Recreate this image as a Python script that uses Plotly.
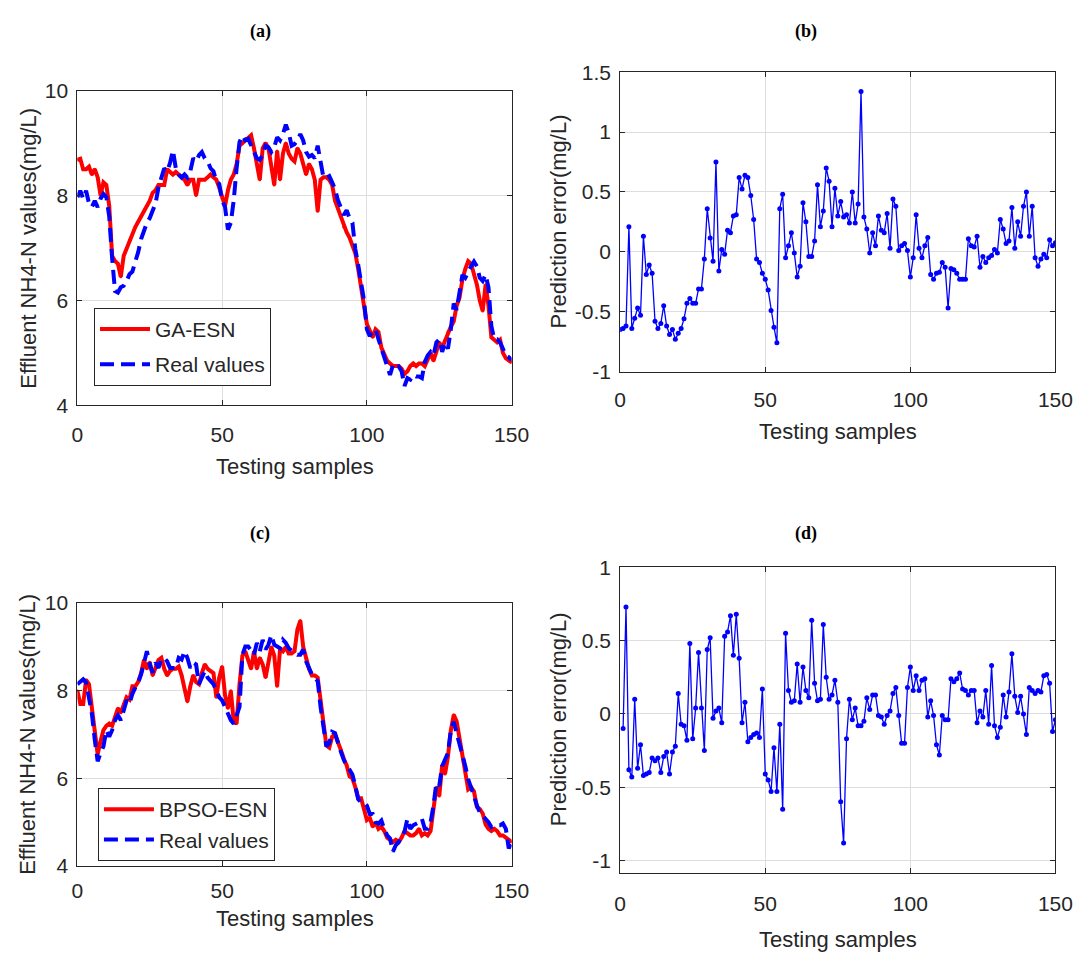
import plotly.graph_objects as go

# ---------------- data ----------------
samples_a = list(range(0, 151))
real_a = [7.97, 8.09, 7.94, 8.09, 7.85, 7.78, 7.9, 7.78, 7.94, 8.03,
          7.97, 7.6, 6.8, 6.18, 6.15, 6.25, 6.28, 6.37, 6.5, 6.55,
          6.74, 6.92, 7.17, 7.35, 7.48, 7.57, 7.72, 7.85, 8.15, 8.34,
          8.52, 8.46, 8.62, 8.86, 8.52, 8.4, 8.34, 8.4, 8.34, 8.46,
          8.71, 8.65, 8.77, 8.83, 8.71, 8.65, 8.52, 8.46, 8.28, 8.22,
          7.91, 7.78, 7.35, 7.48, 7.91, 8.52, 9.02, 9.14, 9.05, 9.08,
          8.95, 8.83, 8.71, 8.68, 8.77, 8.95, 8.92, 8.83, 8.92, 9.11,
          9.05, 9.17, 9.35, 9.2, 8.95, 8.98, 9.05, 9.17, 9.05, 8.83,
          8.74, 8.77, 8.71, 8.95, 8.62, 8.34, 8.34, 8.37, 8.25, 8.12,
          7.91, 7.78, 7.63, 7.72, 7.57, 7.48, 6.98, 6.68, 6.37, 6.0,
          5.45, 5.32, 5.42, 5.45, 5.26, 5.08, 4.95, 4.71, 4.58, 4.77,
          4.71, 4.74, 4.65, 4.37, 4.52, 4.49, 4.58, 4.55, 4.55, 4.52,
          4.83, 4.95, 5.02, 4.95, 5.2, 5.26, 5.02, 5.2, 5.08, 5.45,
          5.94, 5.82, 6.12, 6.49, 6.43, 6.55, 6.65, 6.74, 6.65, 6.43,
          6.37, 6.49, 6.25, 5.51, 5.26, 5.26, 5.2, 5.08, 4.95, 4.92,
          4.86]
ga_esn = [8.68, 8.7, 8.5, 8.5, 8.55, 8.4, 8.5, 8.35, 8.0, 8.25,
          8.2, 7.8, 6.85, 6.75, 6.7, 6.45, 6.85, 7.0, 7.15, 7.25,
          7.4, 7.5, 7.6, 7.7, 7.8, 7.9, 8.05, 8.1, 8.2, 8.2,
          8.2, 8.5, 8.45, 8.4, 8.45, 8.4, 8.35, 8.3, 8.2, 8.3,
          8.3, 8.0, 8.3, 8.3, 8.3, 8.35, 8.4, 8.35, 8.3, 8.15,
          7.95, 7.8, 8.1, 8.3, 8.4, 8.6, 8.95, 9.0, 9.05, 9.1,
          9.15, 8.9, 8.6, 8.3, 8.9, 9.0, 8.9, 8.5, 8.2, 8.85,
          8.3, 8.8, 9.0, 8.8, 8.7, 8.65, 8.9, 8.8, 8.6, 8.4,
          8.6, 8.5, 8.3, 7.7, 8.3, 8.35, 8.35, 8.3, 8.2, 7.9,
          7.75, 7.6, 7.4, 7.3, 7.2, 7.05, 6.9, 6.6, 6.3, 5.9,
          5.55, 5.4, 5.3, 5.45, 5.4, 5.1, 4.95, 4.85, 4.8, 4.75,
          4.75, 4.75, 4.7, 4.6, 4.65, 4.75, 4.8, 4.75, 4.8, 4.8,
          4.75, 4.9, 5.0, 4.85, 5.05, 5.2, 5.1, 5.25, 5.4, 5.5,
          5.6, 5.9, 6.05, 6.4, 6.6, 6.75, 6.7, 6.5, 6.3, 6.0,
          5.8, 6.3, 5.9, 5.3, 5.25, 5.2, 5.25, 5.0, 4.9, 4.85,
          4.82]
err_ga = [-0.65, -0.64, -0.62, 0.21, -0.64, -0.555, -0.47, -0.53, 0.13, -0.19,
          -0.11, -0.18, -0.58, -0.64, -0.60, -0.45, -0.62, -0.69, -0.65, -0.73,
          -0.68, -0.64, -0.56, -0.43, -0.39, -0.43, -0.43, -0.31, -0.31, -0.06,
          0.36, 0.115, -0.08, 0.75, -0.16, 0.02, -0.02, 0.18, 0.16, 0.30,
          0.31, 0.62, 0.525, 0.64, 0.62, 0.47, 0.27, -0.06, -0.09, -0.18,
          -0.23, -0.32, -0.49, -0.63, -0.76, 0.36, 0.48, -0.05, 0.05, 0.16,
          -0.01, -0.21, -0.12, 0.41, 0.25, -0.04, -0.04, 0.09, 0.56, 0.21,
          0.34, 0.70, 0.59, 0.21, 0.53, 0.30, 0.42, 0.29, 0.31, 0.24,
          0.50, 0.24, 0.40, 1.34, 0.29, 0.19, -0.01, 0.16, 0.05, 0.30,
          0.18, 0.16, 0.32, 0.03, 0.44, 0.38, 0.01, 0.05, 0.07, 0.01,
          -0.21, -0.05, 0.31, 0.03, -0.05, 0.05, 0.12, -0.19, -0.23, -0.18,
          -0.17, -0.09, -0.13, -0.47, -0.14, -0.15, -0.18, -0.23, -0.23, -0.23,
          0.11, 0.05, 0.04, 0.13, -0.13, -0.04, -0.09, -0.05, -0.03, 0.02,
          -0.01, 0.27, 0.19, 0.07, 0.09, 0.37, 0.03, 0.25, 0.13, 0.38,
          0.50, 0.13, 0.38, -0.05, -0.12, -0.06, -0.02, -0.05, 0.10, 0.05,
          0.075]

samples_c = list(range(0, 151))
real_c = [8.15, 8.22, 8.26, 8.19, 7.78, 7.48, 6.88, 6.39, 6.58, 6.73,
          7.1, 6.95, 7.1, 7.33, 7.44, 7.33, 7.55, 7.78, 7.7, 7.93,
          8.07, 8.19, 8.37, 8.6, 8.9, 8.6, 8.41, 8.64, 8.52, 8.71,
          8.75, 8.67, 8.52, 8.52, 8.52, 8.75, 8.71, 8.9, 8.75, 8.52,
          8.64, 8.6, 8.15, 8.3, 8.45, 8.3, 8.22, 8.15, 8.0, 7.85,
          7.78, 7.63, 7.48, 7.33, 7.25, 7.48, 7.63, 8.82, 9.01, 9.01,
          8.9, 8.82, 9.09, 8.9, 9.16, 8.94, 9.05, 9.27, 9.05, 9.01,
          8.97, 9.16, 9.09, 8.97, 8.9, 8.86, 8.82, 8.82, 8.94, 8.67,
          8.52, 8.37, 8.3, 8.22, 7.63, 7.1, 6.73, 6.8, 7.06, 7.03,
          6.8, 6.61, 6.43, 6.28, 6.2, 6.09, 5.83, 5.53, 5.45, 5.45,
          5.38, 5.19, 5.19, 5.0, 4.97, 5.04, 4.85, 4.7, 4.63, 4.33,
          4.48, 4.55, 4.67, 4.78, 5.08, 4.85, 4.93, 4.97, 5.0, 5.08,
          4.85, 4.85, 5.0, 5.38, 5.9, 5.83, 6.28, 6.43, 6.58, 7.1,
          7.29, 7.03, 6.8, 6.5, 6.28, 5.98, 5.75, 5.6, 5.38, 5.23,
          5.15, 5.08, 5.0, 4.89, 4.93, 4.93, 4.93, 4.97, 4.85, 4.4,
          4.55]
bpso_esn = [8.0, 7.7, 7.7, 8.25, 8.15, 7.55, 7.0, 6.55, 6.85, 7.1,
            7.2, 7.25, 7.2, 7.4, 7.6, 7.5, 7.7, 7.85, 7.8, 8.1,
            8.1, 8.2, 8.4, 8.7, 8.5, 8.65, 8.35, 8.5, 8.7, 8.75,
            8.5, 8.35, 8.45, 8.5, 8.5, 8.55, 8.35, 8.05, 7.75, 8.1,
            8.35, 8.2, 8.15, 8.4, 8.6, 8.5, 8.45, 8.4, 7.85, 8.3,
            8.55, 7.9, 7.6, 8.0, 7.3, 7.25, 8.15, 8.8, 8.9, 8.7,
            8.5, 8.9, 8.5, 8.75, 8.6, 8.3, 8.7, 9.0, 8.8, 8.1,
            8.95, 8.9, 9.0, 8.85, 8.85, 8.9, 9.4, 9.6, 9.0, 8.7,
            8.5, 8.35, 8.35, 8.3, 7.8, 7.2, 6.75, 6.7, 6.95, 7.0,
            6.85, 6.65, 6.45, 6.3, 6.05, 6.0, 5.8, 5.55, 5.55, 5.3,
            5.05, 5.1, 4.9, 5.0, 4.85, 4.9, 4.8, 4.65, 4.6, 4.55,
            4.6, 4.55, 4.65, 4.8, 4.75, 4.7, 4.7, 4.75, 4.85, 4.7,
            4.75, 4.7, 4.8, 5.3, 5.8, 5.6, 6.3, 6.1, 6.5, 7.1,
            7.45, 7.3, 6.9, 6.5, 6.2, 5.75, 5.8, 5.7, 5.35, 5.3,
            5.2, 4.95, 4.85, 4.8, 4.85, 4.8, 4.7, 4.7, 4.65, 4.6,
            4.55]
samples_d = list(range(1, 151))
err_bpso = [-0.10, 0.73, -0.38, -0.43, 0.10, -0.37, -0.21, -0.42, -0.41, -0.40,
            -0.30, -0.32, -0.30, -0.40, -0.29, -0.26, -0.41, -0.26, -0.22, 0.14,
            -0.07, -0.08, -0.18, 0.48, -0.17, 0.04, 0.42, 0.04, -0.25, 0.44,
            0.52, -0.03, 0.02, 0.04, -0.06, 0.53, 0.56, 0.67, 0.40, 0.68,
            0.38, -0.06, 0.08, -0.19, -0.16, -0.14, -0.13, -0.16, 0.17, -0.41,
            -0.45, -0.53, -0.23, -0.53, -0.07, -0.65, 0.55, 0.16, 0.08, 0.09,
            0.34, 0.08, 0.32, 0.16, 0.11, 0.64, 0.21, 0.09, 0.10, 0.61,
            0.25, 0.10, 0.13, 0.23, 0.08, -0.60, -0.88, -0.17, 0.10, -0.04,
            0.04, -0.08, -0.08, -0.05, 0.11, 0.03, 0.13, 0.13, -0.01, -0.02,
            -0.07, -0.01, 0.02, 0.14, 0.18, -0.01, -0.20, -0.20, 0.18, 0.32,
            0.16, 0.26, 0.16, 0.23, 0.24, -0.02, 0.09, -0.01, -0.21, -0.28,
            -0.01, -0.04, -0.04, 0.24, 0.22, 0.24, 0.28, 0.17, 0.16, 0.13,
            0.16, 0.16, -0.06, 0.02, -0.02, 0.16, -0.07, 0.33, -0.08, -0.16,
            -0.09, 0.13, -0.02, 0.15, 0.41, 0.12, 0.01, 0.12, 0.00, -0.14,
            0.18, 0.16, 0.14, 0.16, 0.15, 0.26, 0.27, 0.21, -0.12, -0.04]

x_ticks = [0, 50, 100, 150]
conc_ticks = [4, 6, 8, 10]
err_ticks_b = [-1, -0.5, 0, 0.5, 1, 1.5]
err_ticks_b_text = ["-1", "-0.5", "0", "0.5", "1", "1.5"]
err_ticks_d = [-1, -0.5, 0, 0.5, 1]
err_ticks_d_text = ["-1", "-0.5", "0", "0.5", "1"]

# ---------------- figure ----------------
W, H = 1092, 963
SANS = "Arial, 'Liberation Sans', sans-serif"
SERIF = "'Times New Roman', 'Liberation Serif', serif"
AX = "#262626"
RED = "#ff0000"
BLUE = "#0000ff"

fig = go.Figure()

# (a)
fig.add_trace(go.Scatter(x=samples_a, y=ga_esn, name="GA-ESN", mode="lines+markers",
                         line=dict(color=RED, width=4), marker=dict(size=3, color=RED),
                         xaxis="x", yaxis="y", legend="legend", legendgroup="a1"))
fig.add_trace(go.Scatter(x=samples_a, y=real_a, name="Real values", mode="lines",
                         line=dict(color=BLUE, width=4, dash="14px,7px"),
                         xaxis="x", yaxis="y", legend="legend", legendgroup="a2"))
# (b)
fig.add_trace(go.Scatter(x=samples_a, y=err_ga, mode="lines+markers", showlegend=False,
                         line=dict(color=BLUE, width=1.3), marker=dict(size=5, color=BLUE),
                         xaxis="x2", yaxis="y2"))
# (c)
fig.add_trace(go.Scatter(x=samples_c, y=bpso_esn, name="BPSO-ESN", mode="lines+markers",
                         line=dict(color=RED, width=4), marker=dict(size=3, color=RED),
                         xaxis="x3", yaxis="y3", legend="legend2", legendgroup="c1"))
fig.add_trace(go.Scatter(x=samples_c, y=real_c, name="Real values", mode="lines",
                         line=dict(color=BLUE, width=4, dash="14px,7px"),
                         xaxis="x3", yaxis="y3", legend="legend2", legendgroup="c2"))
# (d)
fig.add_trace(go.Scatter(x=samples_d, y=err_bpso, mode="lines+markers", showlegend=False,
                         line=dict(color=BLUE, width=1.3), marker=dict(size=5, color=BLUE),
                         xaxis="x4", yaxis="y4"))


def px_x(p):
    return p / W


def px_y(p):
    return 1 - p / H


def axis_common(**kw):
    d = dict(showline=True, linecolor=AX, linewidth=1, mirror="ticks",
             ticks="inside", ticklen=5, tickcolor=AX, tickwidth=1,
             showgrid=True, gridcolor="#dedede", gridwidth=1, zeroline=False,
             tickfont=dict(family=SANS, size=21, color=AX))
    d.update(kw)
    return d


# panel boxes in pixels: (left, right, top, bottom)
box_a = (73, 517, 80.5, 403)
box_b = (628, 1073, 61.7, 368.3)
box_c = (73, 517, 605.5, 875)
box_d = (628, 1073, 569, 882)

layout_axes = {}
for i, (box, xa, ya, yr, yt, ytt, xstand) in enumerate([
        (box_a, "x", "y", [4, 10], conc_ticks, [str(v) for v in conc_ticks], 10),
        (box_b, "x2", "y2", [-1, 1.5], err_ticks_b, err_ticks_b_text, 9),
        (box_c, "x3", "y3", [4, 10], conc_ticks, [str(v) for v in conc_ticks], 6),
        (box_d, "x4", "y4", [-1.085, 1], err_ticks_d, err_ticks_d_text, 12)]):
    l, r, t, b = box
    xname = "xaxis" if i == 0 else f"xaxis{i + 1}"
    yname = "yaxis" if i == 0 else f"yaxis{i + 1}"
    layout_axes[xname] = axis_common(domain=[px_x(l), px_x(r)], anchor=ya, range=[0, 150],
                                     tickvals=x_ticks, ticktext=[str(v) for v in x_ticks],
                                     ticklabelstandoff=xstand)
    layout_axes[yname] = axis_common(domain=[px_y(b), px_y(t)], anchor=xa, range=yr,
                                     tickvals=yt, ticktext=ytt, ticklabelstandoff=4)

fig.update_layout(**layout_axes)

annotations = []
# panel labels
for txt, cx, cy in [("(a)", 260, 20), ("(b)", 818, 20), ("(c)", 260, 534), ("(d)", 818, 534)]:
    annotations.append(dict(text=f"<b>{txt}</b>", x=px_x(cx), y=px_y(cy), xref="paper", yref="paper",
                            showarrow=False, xanchor="center", yanchor="middle",
                            font=dict(family=SERIF, size=18, color="black")))
# axis titles
for txt, cx, cy, ang in [
        ("Effluent NH4-N values(mg/L)", 23, 242, -90),
        ("Testing samples", 295, 466, 0),
        ("Prediction error(mg/L)", 565, 215, -90),
        ("Testing samples", 850.5, 430, 0),
        ("Effluent NH4-N values(mg/L)", 22, 740, -90),
        ("Testing samples", 295, 929, 0),
        ("Prediction error(mg/L)", 565, 725, -90),
        ("Testing samples", 850.5, 950, 0)]:
    annotations.append(dict(text=txt, x=px_x(cx), y=px_y(cy), xref="paper", yref="paper",
                            showarrow=False, xanchor="center", yanchor="middle", textangle=ang,
                            font=dict(family=SANS, size=22, color=AX)))

fig.update_layout(
    width=W, height=H,
    margin=dict(l=0, r=0, t=0, b=0),
    paper_bgcolor="white", plot_bgcolor="white",
    annotations=annotations,
    legend=dict(x=px_x(90), y=px_y(303), xanchor="left", yanchor="top",
                bgcolor="white", bordercolor=AX, borderwidth=1, itemwidth=50,
                font=dict(family=SANS, size=21, color=AX), tracegroupgap=5),
    legend2=dict(x=px_x(94), y=px_y(795), xanchor="left", yanchor="top",
                 bgcolor="white", bordercolor=AX, borderwidth=1, itemwidth=50,
                 font=dict(family=SANS, size=21, color=AX), tracegroupgap=0),
)

fig.write_html("out.html")
